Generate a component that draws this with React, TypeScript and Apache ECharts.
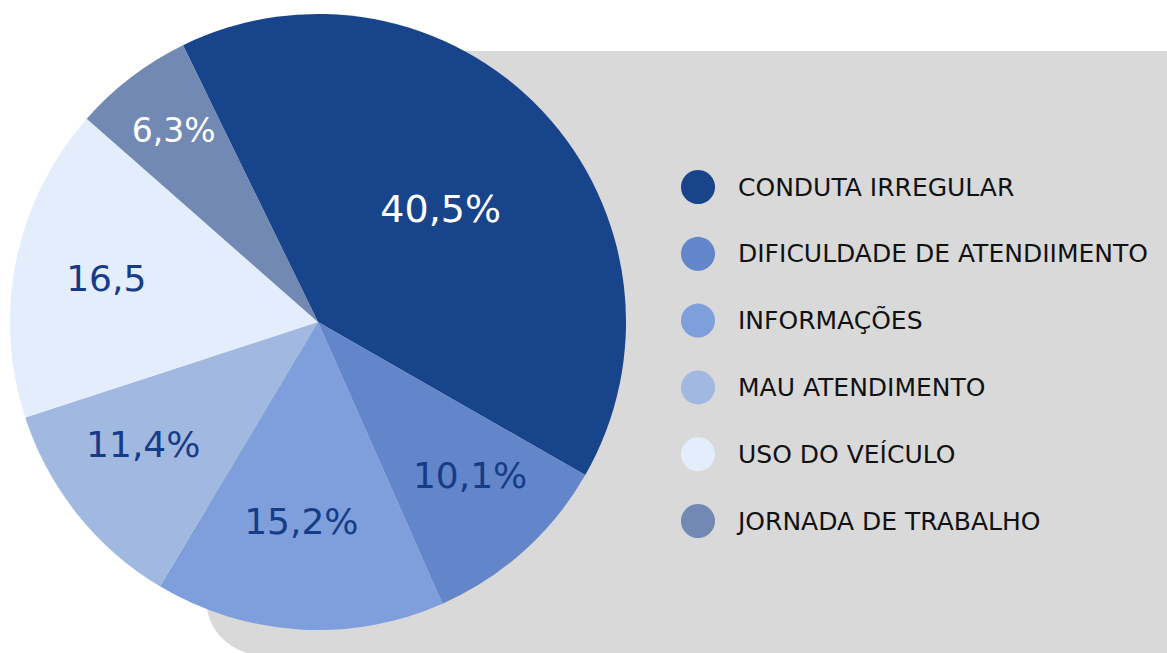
import React, { useEffect, useRef } from "react";
import * as echarts from "echarts";

const categories = [
  "CONDUTA IRREGULAR",
  "DIFICULDADE DE ATENDIIMENTO",
  "INFORMAÇÕES",
  "MAU ATENDIMENTO",
  "USO DO VEÍCULO",
  "JORNADA DE TRABALHO",
];
const values = [40.5, 10.1, 15.2, 11.4, 16.5, 6.3];
const sliceLabels = ["40,5%", "10,1%", "15,2%", "11,4%", "16,5", "6,3%"];
const colors = ["#17448b", "#6286c9", "#7e9fdb", "#a1b9e0", "#e3edfb", "#7189b3"];
const labelColors = ["#ffffff", "#163c87", "#163c87", "#163c87", "#163c87", "#ffffff"];
const labelSizes = [38, 36, 36, 36, 36, 33];
const labelShift = [
  [8, -6],
  [47, 37],
  [-7, 43],
  [-52, 25],
  [-58, -12],
  [-49, -67],
];

export default function App() {
  const ref = useRef<HTMLDivElement>(null);
  useEffect(() => {
    if (!ref.current) return;
    const chart = echarts.init(ref.current, null, { renderer: "svg" });
    chart.setOption({
      animation: false,
      backgroundColor: "#ffffff",
      graphic: [
        {
          type: "rect",
          z: -10,
          shape: { x: 206, y: 51, width: 1100, height: 604, r: 56 },
          style: { fill: "#d9d9d9" },
        },
      ],
      legend: {
        orient: "vertical",
        left: 676,
        top: 165,
        icon: "circle",
        itemWidth: 34,
        itemHeight: 34,
        itemGap: 32.8,
        selectedMode: false,
        data: categories,
        textStyle: {
          fontFamily: "DejaVu Sans",
          fontWeight: "normal",
          fontSize: 25,
          color: "#111111",
          padding: [0, 0, 0, 18],
        },
      },
      series: [
        {
          type: "pie",
          center: [318, 322],
          radius: [0, 308],
          startAngle: 116,
          clockwise: true,
          avoidLabelOverlap: false,
          labelLine: { show: false },
          label: {
            show: true,
            position: "inside",
            fontFamily: "DejaVu Sans",
            fontWeight: "normal",
          },
          labelLayout: (p: any) => ({
            dx: labelShift[p.dataIndex][0],
            dy: labelShift[p.dataIndex][1],
          }),
          emphasis: { disabled: true },
          data: values.map((v, i) => ({
            name: categories[i],
            value: v,
            itemStyle: { color: colors[i] },
            label: {
              formatter: sliceLabels[i],
              color: labelColors[i],
              fontSize: labelSizes[i],
            },
          })),
        },
      ],
    });
    return () => chart.dispose();
  }, []);
  return (
    <div
      ref={ref}
      style={{ position: "fixed", left: 0, top: 0, width: 1167, height: 653 }}
    />
  );
}
